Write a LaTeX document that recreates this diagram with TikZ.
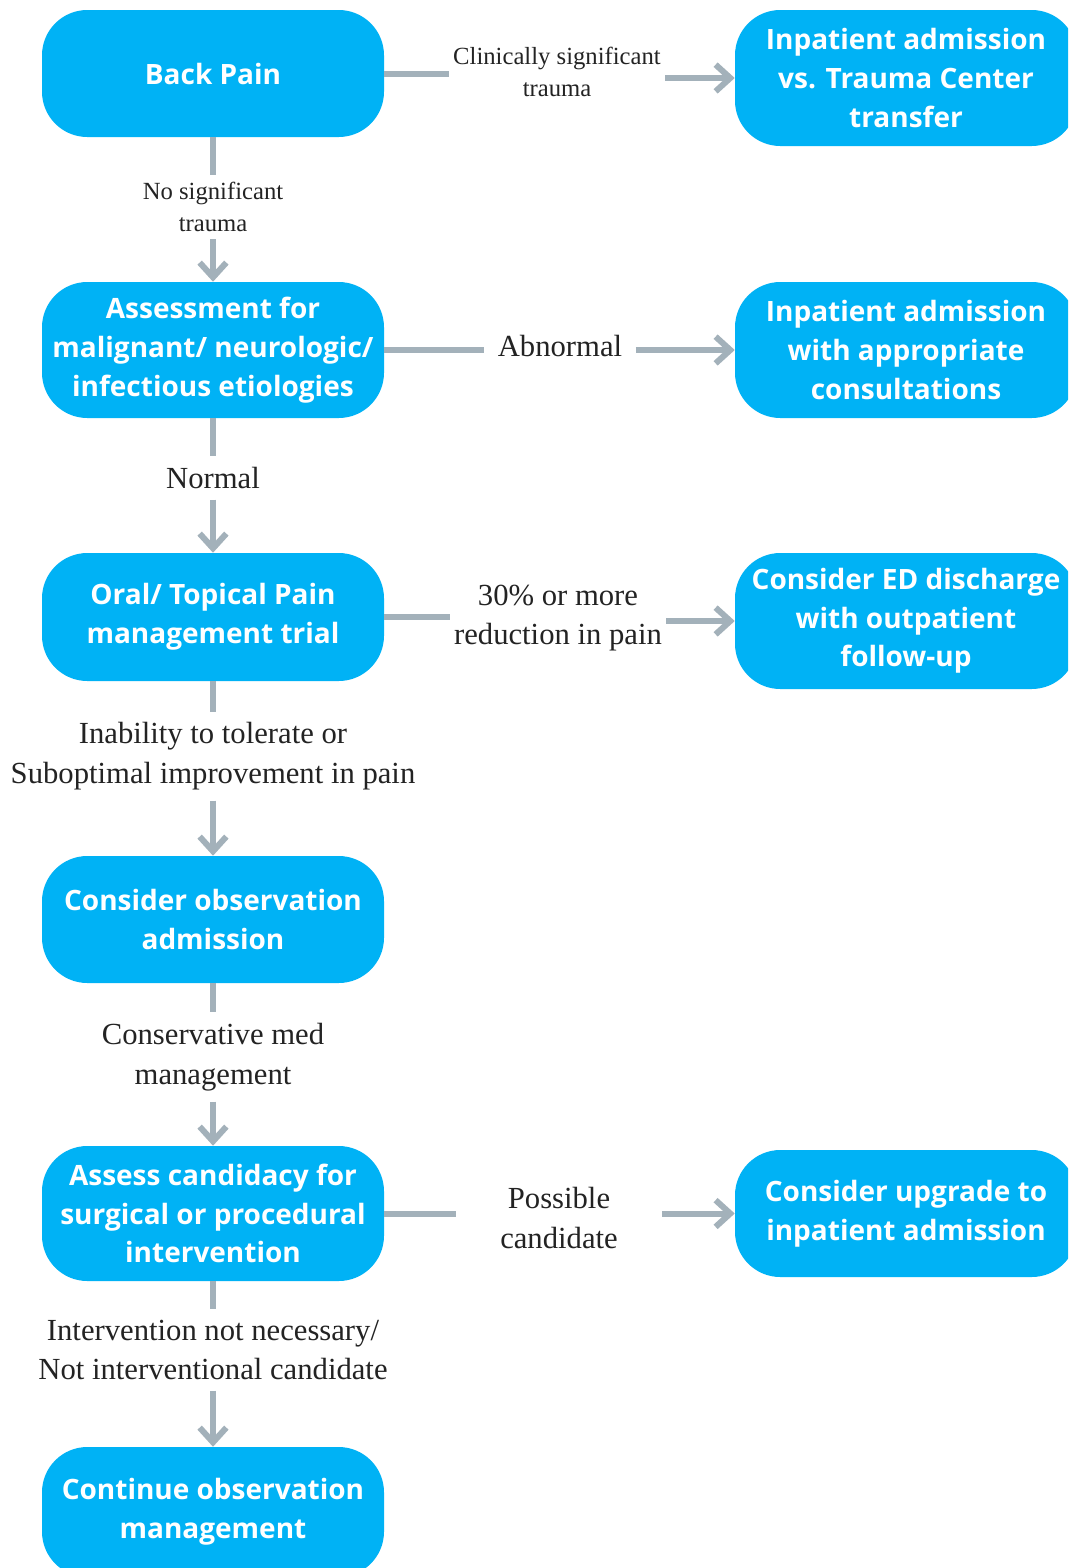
\documentclass[tikz,border=0pt]{standalone}
\usepackage{fontspec}
\setmainfont{Liberation Serif}
\newfontfamily\boxfont{Open Sans}
\usetikzlibrary{arrows.meta}
\definecolor{boxblue}{RGB}{0,178,245}
\definecolor{conncol}{RGB}{163,177,186}
\definecolor{labcol}{RGB}{35,35,35}
\begin{document}
\begin{tikzpicture}[x=0.75pt,y=-0.75pt,
  flowbox/.style={rectangle, rounded corners=34pt, fill=boxblue, text=white,
    font=\boxfont\bfseries\fontsize{21}{29}\selectfont, align=center,
    minimum width=256.5pt, inner sep=0pt},
  biglab/.style={font=\fontsize{23}{29.5}\selectfont, text=labcol, align=center, inner xsep=3pt, inner ysep=8pt},
  smalllab/.style={font=\fontsize{18.5}{24.5}\selectfont, text=labcol, align=center, inner xsep=3pt, inner ysep=5pt},
  conn/.style={draw=conncol, line width=4.5pt},
  arr/.style={conn, -{Straight Barb[length=11pt,width=20pt]}}]
\clip (0,0) rectangle (1068,1568);
\fill[white] (0,0) rectangle (1068,1568);

% left column
\node[flowbox, minimum height=95.25pt] (b1) at (213,73.5) {Back Pain};
\node[flowbox, minimum height=102pt] (b2) at (213,350) {Assessment for\\malignant/ neurologic/\\infectious etiologies};
\node[flowbox, minimum height=96pt] (b3) at (213,617) {Oral/ Topical Pain\\management trial};
\node[flowbox, minimum height=95.25pt] (b4) at (213,919.5) {Consider observation\\admission};
\node[flowbox, minimum height=101.25pt] (b5) at (213,1213.5) {Assess candidacy for\\surgical or procedural\\intervention};
\node[flowbox, minimum height=97.5pt] (b6) at (213,1512) {Continue observation\\management};

% right column
\node[flowbox, minimum height=102pt] (r1) at (906,78) {Inpatient admission\\vs. Trauma Center\\transfer};
\node[flowbox, minimum height=102pt] (r2) at (906,350) {Inpatient admission\\with appropriate\\consultations};
\node[flowbox, minimum height=102pt] (r3) at (906,621) {Consider ED discharge\\with outpatient\\follow-up};
\node[flowbox, minimum height=95.25pt] (r4) at (906,1213.5) {Consider upgrade to\\inpatient admission};

% horizontal labels
\node[smalllab] (h1) at (557,72) {Clinically significant\\trauma};
\node[biglab, inner xsep=10pt] (h2) at (560,346) {Abnormal};
\node[biglab] (h3) at (558,618) {30\% or more\\reduction in pain};
\node[biglab, inner xsep=33pt] (h4) at (559,1218) {Possible\\candidate};

% vertical labels
\node[smalllab] (v1) at (213,207) {No significant\\trauma};
\node[biglab] (v2) at (213,478) {Normal};
\node[biglab] (v3) at (213,756) {Inability to tolerate or\\Suboptimal improvement in pain};
\node[biglab] (v4) at (213,1057) {Conservative med\\management};
\node[biglab] (v5) at (213,1350) {Intervention not necessary/\\Not interventional candidate};

% horizontal connectors
\draw[conn] (b1.east) -- (h1.west |- b1.east);
\draw[arr] (h1.east |- r1.west) -- (r1.west);
\draw[conn] (b2.east) -- (h2.west |- b2.east);
\draw[arr] (h2.east |- r2.west) -- (r2.west);
\draw[conn] (b3.east) -- (h3.west |- b3.east);
\draw[arr] (h3.east |- r3.west) -- (r3.west);
\draw[conn] (b5.east) -- (h4.west |- b5.east);
\draw[arr] (h4.east |- r4.west) -- (r4.west);

% vertical connectors
\draw[conn] (b1.south) -- (v1.north);
\draw[arr] (v1.south) -- (b2.north);
\draw[conn] (b2.south) -- (v2.north);
\draw[arr] (v2.south) -- (b3.north);
\draw[conn] (b3.south) -- (v3.north);
\draw[arr] (v3.south) -- (b4.north);
\draw[conn] (b4.south) -- (v4.north);
\draw[arr] (v4.south) -- (b5.north);
\draw[conn] (b5.south) -- (v5.north);
\draw[arr] (v5.south) -- (b6.north);
\end{tikzpicture}
\end{document}
